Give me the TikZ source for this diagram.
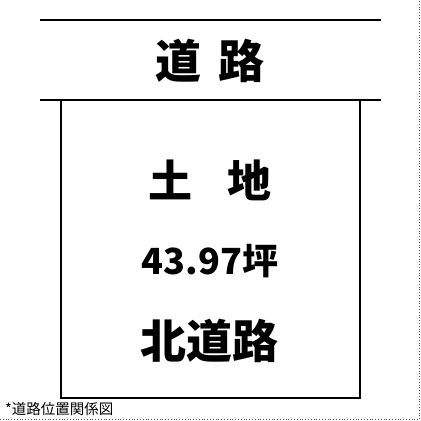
\documentclass[tikz,border=0pt]{standalone}
\usepackage{fontspec}
\newfontfamily\jp{Noto Sans CJK JP}
\usetikzlibrary{positioning}

\begin{document}
\begin{tikzpicture}[x=1pt,y=-1pt,
    road/.style={line width=2.8pt},
    lot/.style={line width=2.8pt},
    frame/.style={line width=0.8pt,dotted,black!70},
    bigtext/.style={font=\jp\bfseries\fontsize{46pt}{50pt}\selectfont,inner sep=0pt},
    areatext/.style={font=\jp\bfseries\fontsize{36pt}{40pt}\selectfont,inner sep=0pt},
    note/.style={font=\jp\fontsize{14.5pt}{16pt}\selectfont,inner sep=0pt,anchor=west}]

    \useasboundingbox (0,0) rectangle (421,421);

    % road
    \coordinate (roadNW) at (40,20);
    \coordinate (roadNE) at (381,20);
    \coordinate (roadSW) at (40,100);
    \coordinate (roadSE) at (381,100);
    \draw[road] (roadNW) -- (roadNE);
    \draw[road] (roadSW) -- (roadSE);
    \node[bigtext] (road) at (210,61) {道\hspace{17pt}路};

    % lot
    \coordinate (lotNW) at (61,100);
    \coordinate (lotSW) at (61,398);
    \coordinate (lotSE) at (360,398);
    \coordinate (lotNE) at (360,100);
    \draw[lot] (lotNW) -- (lotSW) -- (lotSE) -- (lotNE);

    \node[bigtext,font=\jp\bfseries\fontsize{44pt}{48pt}\selectfont] (land) at (210,180) {土\hspace{35pt}地};
    \node[areatext] (area) at (210,261) {43.97坪};
    \node[bigtext] (north) at (209,341) {北道路};

    % caption and frame
    \node[note] (caption) at (5,409) {*道路位置関係図};
    \coordinate (frameSW) at (0,419.5);
    \coordinate (frameSE) at (419.5,419.5);
    \coordinate (frameNE) at (419.5,0);
    \draw[frame] (frameSW) -- (frameSE) -- (frameNE);
\end{tikzpicture}
\end{document}
